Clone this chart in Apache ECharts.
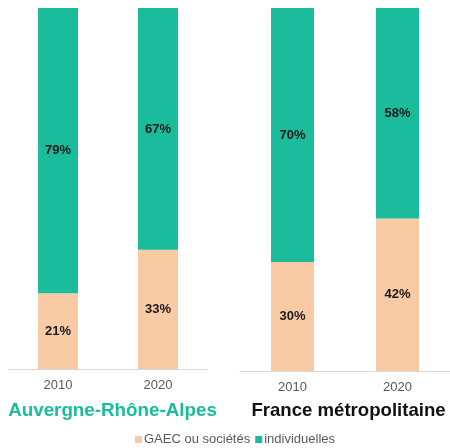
<!DOCTYPE html>
<html><head><meta charset="utf-8">
<script src="https://cdn.jsdelivr.net/npm/echarts@6/dist/echarts.min.js"></script>
<style>html,body{margin:0;padding:0;background:#fff}#c{width:450px;height:448px}</style>
</head><body><div id="c"></div>
<script>
const years = ['2010', '2020'];
const regions = ['Auvergne-Rhône-Alpes', 'France métropolitaine'];
const seriesNames = ['GAEC ou sociétés', 'individuelles'];
const araGaec = [21, 33];
const araIndiv = [79, 67];
const franceGaec = [30, 42];
const franceIndiv = [70, 58];

const teal = '#1abc9c', peach = '#f8cba4';
const ff = 'Liberation Sans, Arial, sans-serif';
const lbl = {show: true, position: 'inside', formatter: '{c}%', color: '#1a1a1a', fontWeight: 'bold', fontSize: 13, fontFamily: ff};
const xAx = (gi) => ({type: 'category', gridIndex: gi, data: years,
  axisLine: {lineStyle: {color: '#d9d9d9'}}, axisTick: {show: false},
  axisLabel: {color: '#595959', fontSize: 13, margin: 10, fontFamily: ff}});
const yAx = (gi) => ({type: 'value', gridIndex: gi, min: 0, max: 100, show: false, splitLine: {show: false}});
const chart = echarts.init(document.getElementById('c'));
chart.setOption({
  animation: false,
  textStyle: {fontFamily: ff},
  title: [
    {text: regions[0], left: 112.5, textAlign: 'center', top: 401, padding: 0, textStyle: {color: teal, fontSize: 18.8, fontWeight: 'bold', fontFamily: ff}},
    {text: regions[1], left: 348.5, textAlign: 'center', top: 401, padding: 0, textStyle: {color: '#111', fontSize: 18.6, fontWeight: 'bold', fontFamily: ff}}
  ],
  legend: {data: seriesNames, bottom: -3, left: 130, icon: 'rect', itemWidth: 7, itemHeight: 7, itemGap: 5,
    textStyle: {color: '#595959', fontSize: 13, fontFamily: ff, padding: [0, 0, 0, -3]}},
  grid: [
    {left: 8, width: 200, top: 8, bottom: 79},
    {left: 240, width: 216, top: 8, bottom: 77}
  ],
  xAxis: [xAx(0), xAx(1)],
  yAxis: [yAx(0), yAx(1)],
  series: [
    {name: seriesNames[0], type: 'bar', stack: 'a', xAxisIndex: 0, yAxisIndex: 0, barWidth: 40, data: araGaec, itemStyle: {color: peach}, label: lbl},
    {name: seriesNames[1], type: 'bar', stack: 'a', xAxisIndex: 0, yAxisIndex: 0, barWidth: 40, data: araIndiv, itemStyle: {color: teal}, label: lbl},
    {name: seriesNames[0], type: 'bar', stack: 'b', xAxisIndex: 1, yAxisIndex: 1, barWidth: 43, data: franceGaec, itemStyle: {color: peach}, label: lbl},
    {name: seriesNames[1], type: 'bar', stack: 'b', xAxisIndex: 1, yAxisIndex: 1, barWidth: 43, data: franceIndiv, itemStyle: {color: teal}, label: lbl}
  ]
});
</script></body></html>
